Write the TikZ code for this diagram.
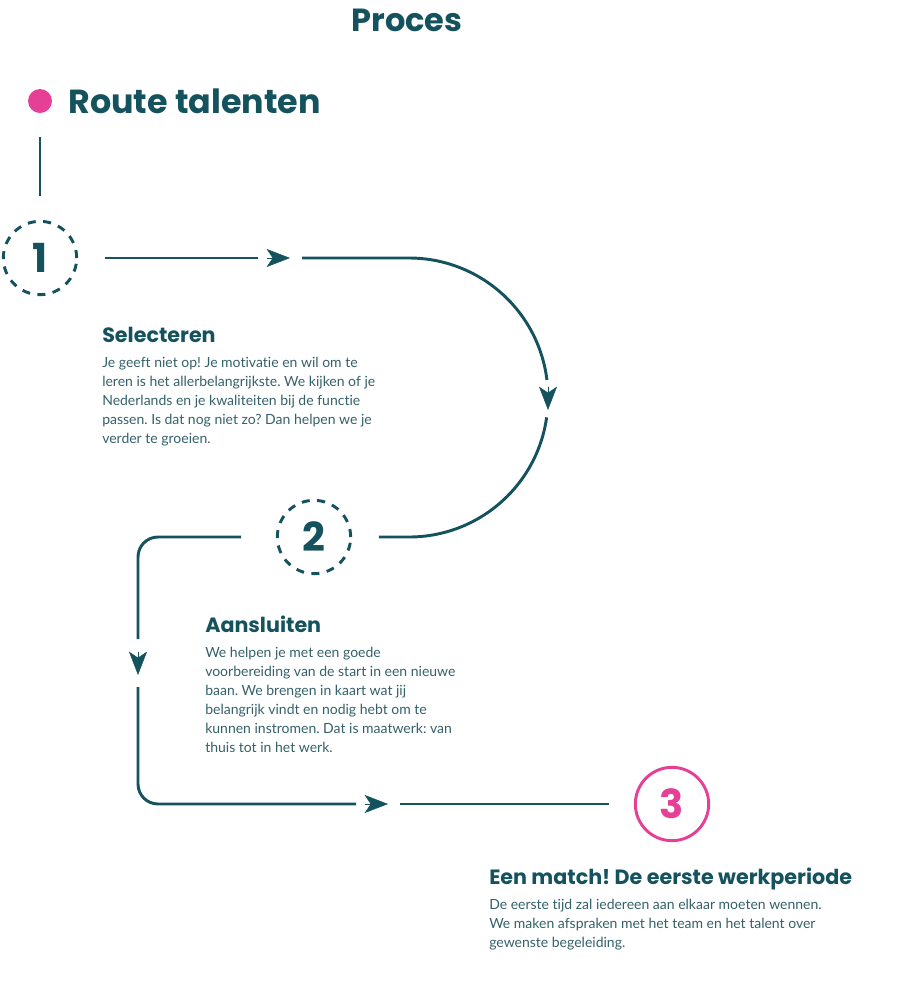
\documentclass[tikz,border=0pt]{standalone}
\usepackage{fontspec}
\setmainfont{Lato}[Ligatures=NoCommon]
\newfontfamily\headfont{Poppins}
\usetikzlibrary{positioning,arrows.meta}
\definecolor{petrol}{RGB}{20,82,94}
\definecolor{roze}{RGB}{229,64,150}
\definecolor{leestekst}{RGB}{52,96,106}
\frenchspacing

\begin{document}
\begin{tikzpicture}[x=0.75pt, y=0.75pt,
                    link/.style={draw=petrol, line width=2.2pt},
                    pijl/.style={draw=petrol, fill=petrol, line width=0.4pt,
                                 -{Stealth[length=17.5pt, width=13.5pt, inset=4.5pt]}},
                    nummer/.style={circle, minimum size=55pt, line width=2.2pt, inner sep=0,
                                   font=\headfont\bfseries\fontsize{30}{30}\selectfont},
                    stap/.style={nummer, draw=petrol, text=petrol, dash pattern=on 6pt off 5.6pt},
                    kop/.style={anchor=base west, inner sep=0, text=petrol,
                                font=\headfont\bfseries\fontsize{15.5}{18}\selectfont},
                    tekst/.style={align=left, inner sep=0, text=leestekst,
                                  font=\fontsize{10.5}{14.3}\selectfont}]
    \useasboundingbox (0,0) rectangle (908,-1000);

    \node (titel) [text=petrol, font=\headfont\bfseries\fontsize{24}{28}\selectfont] at (407,-20) {Proces};
    \node (dot) [circle, fill=roze, minimum size=18pt, inner sep=0] at (40,-101) {};
    \node (route) [right=12pt of dot, inner sep=0, text=petrol,
                   font=\headfont\bfseries\fontsize{25}{28}\selectfont] {Route talenten};

    \node (s1) [stap] at (40,-258) {1};
    \node (s2) [stap] at (314,-537) {2};
    \node (s3) [nummer, draw=roze, text=roze] at (672,-804) {3};

    \coordinate (a1) at (290,-258);
    \coordinate (a2) at (548,-410);
    \coordinate (a3) at (138,-675);
    \coordinate (a4) at (388,-804);
    \coordinate (m1) at (409,-398);

    \draw [link, line width=1.6pt, shorten <=18pt, shorten >=18pt] (dot) -- (s1);

    \draw [link, shorten <=20pt] (s1) -- ([xshift=-24pt]a1);
    \draw [pijl] ([xshift=-17.5pt]a1) -- (a1);
    \draw [link] ([xshift=9pt]a1) -- (409,-258) arc[start angle=90, end angle=7, radius=104.25pt];
    \draw [pijl] ([yshift=17.5pt]a2) -- (a2);
    \draw [link, shorten >=20pt] (m1) ++(-8:104.25pt) arc[start angle=-8, end angle=-90, radius=104.25pt] -- (s2);

    \draw [link, rounded corners=15pt, shorten <=26pt] (s2) -- (138,-537) -- ([yshift=27pt]a3);
    \draw [pijl] ([yshift=17.5pt]a3) -- (a3);
    \draw [link, rounded corners=15pt] ([yshift=-9pt]a3) -- (138,-804) -- ([xshift=-24pt]a4);
    \draw [pijl] ([xshift=-17.5pt]a4) -- (a4);
    \draw [link, shorten >=19pt] ([xshift=9pt]a4) -- (s3);

    \node (kop1) [kop] at (102,-342) {Selecteren};
    \node (tekst1) [tekst, below right=11pt and 0pt of kop1.base west]
        {Je geeft niet op! Je motivatie en wil om te\\
         leren is het allerbelangrijkste. We kijken of je\\
         Nederlands en je kwaliteiten bij de functie\\
         passen. Is dat nog niet zo? Dan helpen we je\\
         verder te groeien.};

    \node (kop2) [kop] at (205,-632) {Aansluiten};
    \node (tekst2) [tekst, below right=11pt and 0pt of kop2.base west]
        {We helpen je met een goede\\
         voorbereiding van de start in een nieuwe\\
         baan. We brengen in kaart wat jij\\
         belangrijk vindt en nodig hebt om te\\
         kunnen instromen. Dat is maatwerk: van\\
         thuis tot in het werk.};

    \node (kop3) [kop] at (489,-884) {Een match! De eerste werkperiode};
    \node (tekst3) [tekst, below right=11pt and 0pt of kop3.base west]
        {De eerste tijd zal iedereen aan elkaar moeten wennen.\\
         We maken afspraken met het team en het talent over\\
         gewenste begeleiding.};
\end{tikzpicture}
\end{document}
